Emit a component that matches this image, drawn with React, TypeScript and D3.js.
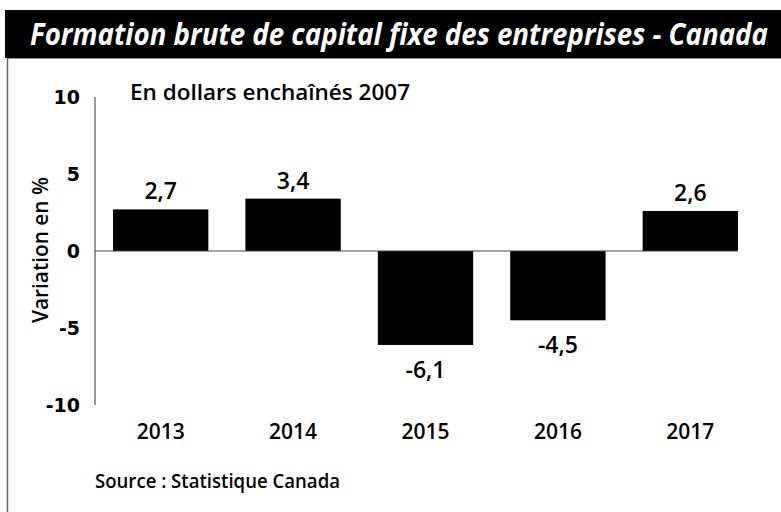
import React, { useRef, useEffect } from 'react';
import * as d3 from 'd3';

const years = ['2013', '2014', '2015', '2016', '2017'];
const values = [2.7, 3.4, -6.1, -4.5, 2.6];
const yTicks = [10, 5, 0, -5, -10];

const App = () => {
  const svgRef = useRef<SVGSVGElement>(null);

  useEffect(() => {
    const svg = d3.select(svgRef.current);
    svg.selectAll('*').remove();

    const font = '"Open Sans", sans-serif';
    const x = d3.scaleBand().domain(years).range([95, 756]).paddingInner(0.28).paddingOuter(0.136);
    const y = d3.scaleLinear().domain([-10, 10]).range([405, 97]);

    svg.append('rect').attr('x', 0).attr('y', 0).attr('width', 781).attr('height', 512).attr('fill', '#fff');

    // title band
    svg.append('rect').attr('x', 5).attr('y', 10).attr('width', 776).attr('height', 48).attr('fill', '#000');
    // title: drawn a bit smaller, then stretched vertically to match the condensed face
    svg.append('text')
      .attr('transform', 'translate(30,45) scale(1,1.12)')
      .attr('textLength', 738).attr('lengthAdjust', 'spacingAndGlyphs')
      .style('font-family', font).style('font-weight', 700).style('font-style', 'italic')
      .style('font-size', '27px').style('fill', '#fff')
      .text('Formation brute de capital fixe des entreprises - Canada');

    // frame
    svg.append('line').attr('x1', 7).attr('x2', 781).attr('y1', 58.5).attr('y2', 58.5).attr('stroke', '#888').attr('stroke-width', 1);
    svg.append('line').attr('x1', 7.5).attr('x2', 7.5).attr('y1', 58).attr('y2', 512).attr('stroke', '#666').attr('stroke-width', 1.5);

    // subtitle
    svg.append('text')
      .attr('x', 130).attr('y', 100)
      .attr('textLength', 280).attr('lengthAdjust', 'spacingAndGlyphs')
      .style('font-family', font).style('font-weight', 600).style('font-size', '21px').style('fill', '#000')
      .text('En dollars enchaînés 2007');

    // y axis
    svg.append('line').attr('x1', 95).attr('x2', 95).attr('y1', y(10)).attr('y2', y(-10)).attr('stroke', '#777').attr('stroke-width', 1.5);
    svg.selectAll('text.tick').data(yTicks).enter().append('text')
      .attr('class', 'tick')
      .attr('x', 80).attr('y', (d) => y(d) + 7)
      .attr('text-anchor', 'end')
      .style('font-family', '"DejaVu Sans", sans-serif').style('font-weight', 700)
      .style('font-size', '19px').style('fill', '#000')
      .text((d) => String(d));

    svg.append('text')
      .attr('transform', `translate(48,250) rotate(-90)`)
      .attr('text-anchor', 'middle')
      .attr('textLength', 146).attr('lengthAdjust', 'spacingAndGlyphs')
      .style('font-family', font).style('font-weight', 600).style('font-size', '22px').style('fill', '#000')
      .text('Variation en %');

    // bars
    svg.selectAll('rect.bar').data(values).enter().append('rect')
      .attr('class', 'bar')
      .attr('x', (d, i) => x(years[i]))
      .attr('y', (d) => y(Math.max(0, d)))
      .attr('width', x.bandwidth())
      .attr('height', (d) => Math.abs(y(d) - y(0)))
      .attr('fill', '#000');

    svg.append('line').attr('x1', 95).attr('x2', x(years[4]) + x.bandwidth()).attr('y1', y(0)).attr('y2', y(0)).attr('stroke', '#444').attr('stroke-width', 1);

    // value labels
    svg.selectAll('text.val').data(values).enter().append('text')
      .attr('class', 'val')
      .attr('x', (d, i) => x(years[i]) + x.bandwidth() / 2)
      .attr('y', (d) => d >= 0 ? y(d) - 10 : y(d) + 33)
      .attr('text-anchor', 'middle')
      .style('font-family', font).style('font-weight', 600).style('font-size', '23px').style('fill', '#000')
      .text((d) => d.toString().replace('.', ','));

    // year labels
    svg.selectAll('text.year').data(years).enter().append('text')
      .attr('class', 'year')
      .attr('x', (d) => x(d) + x.bandwidth() / 2)
      .attr('y', 439)
      .attr('text-anchor', 'middle')
      .style('font-family', font).style('font-weight', 600).style('font-size', '21px').style('fill', '#000')
      .text((d) => d);

    svg.append('text')
      .attr('x', 95).attr('y', 488)
      .attr('textLength', 245).attr('lengthAdjust', 'spacingAndGlyphs')
      .style('font-family', font).style('font-weight', 600).style('font-size', '19px').style('fill', '#000')
      .text('Source : Statistique Canada');
  }, []);

  return (
    <svg ref={svgRef} width={781} height={512} style={{ position: 'absolute', left: 0, top: 0 }} />
  );
};

export default App;
